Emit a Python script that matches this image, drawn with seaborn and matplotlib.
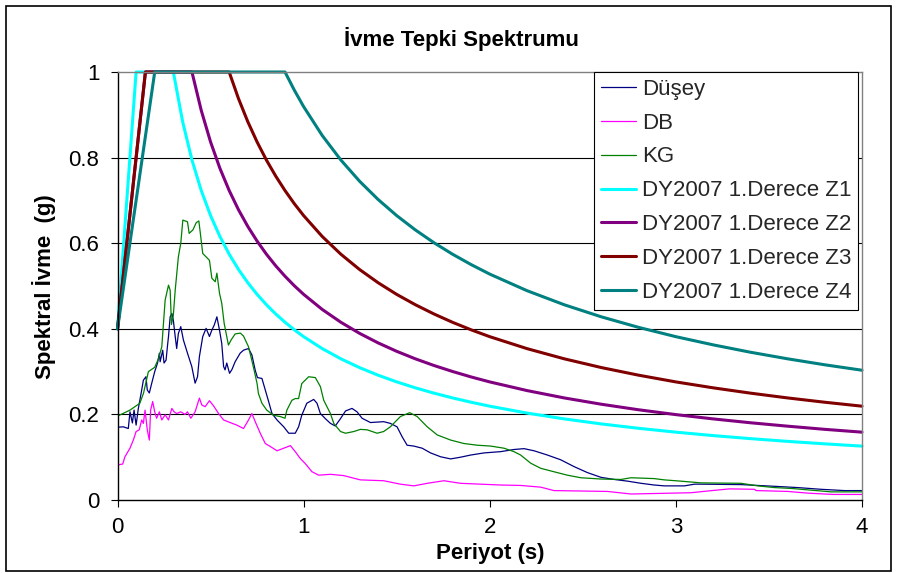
import matplotlib
matplotlib.use("Agg")
import matplotlib.pyplot as plt
import seaborn as sns
from matplotlib.patches import Rectangle

# ---------------- data ----------------
t_dusey = [0, 0.031, 0.058, 0.067, 0.08, 0.089, 0.1, 0.112, 0.13, 0.139, 0.153, 0.16, 0.171, 0.184,
           0.2, 0.215, 0.225, 0.229, 0.243, 0.25, 0.261, 0.268, 0.274, 0.283, 0.292, 0.3, 0.31, 0.318,
           0.327, 0.34, 0.354, 0.376, 0.399, 0.417, 0.43, 0.44, 0.458, 0.476, 0.494, 0.507, 0.52, 0.534,
           0.548, 0.56, 0.57, 0.578, 0.587, 0.602, 0.615, 0.632, 0.659, 0.677, 0.704, 0.722, 0.74, 0.752,
           0.776, 0.794, 0.812, 0.83, 0.857, 0.893, 0.92, 0.955, 0.973, 0.99, 1.017, 1.054, 1.072, 1.09,
           1.117, 1.144, 1.17, 1.198, 1.225, 1.26, 1.287, 1.314, 1.359, 1.43, 1.466, 1.502, 1.529, 1.556,
           1.592, 1.637, 1.682, 1.736, 1.79, 1.843, 1.897, 1.969, 2.059, 2.13, 2.184, 2.238, 2.31, 2.381,
           2.453, 2.525, 2.597, 2.669, 2.741, 2.813, 2.884, 2.938, 3.046, 3.1, 3.135, 3.35, 3.53, 3.655,
           3.78, 3.906, 4.0]
v_dusey = [0.17, 0.171, 0.167, 0.206, 0.18, 0.21, 0.175, 0.214, 0.257, 0.28, 0.288, 0.257, 0.25, 0.273,
           0.3, 0.32, 0.343, 0.323, 0.35, 0.32, 0.327, 0.358, 0.382, 0.428, 0.436, 0.42, 0.382, 0.354,
           0.389, 0.405, 0.374, 0.343, 0.312, 0.273, 0.288, 0.335, 0.382, 0.401, 0.382, 0.397, 0.409, 0.428,
           0.397, 0.366, 0.312, 0.304, 0.32, 0.296, 0.305, 0.323, 0.343, 0.35, 0.354, 0.339, 0.303, 0.286,
           0.284, 0.257, 0.23, 0.202, 0.187, 0.171, 0.156, 0.156, 0.171, 0.198, 0.226, 0.235, 0.226, 0.202,
           0.19, 0.179, 0.173, 0.19, 0.208, 0.214, 0.206, 0.191, 0.181, 0.183, 0.179, 0.171, 0.148, 0.128,
           0.126, 0.121, 0.11, 0.101, 0.096, 0.1, 0.105, 0.11, 0.113, 0.118, 0.12, 0.115, 0.105, 0.094,
           0.078, 0.064, 0.053, 0.048, 0.044, 0.039, 0.035, 0.033, 0.033, 0.037, 0.037, 0.036, 0.032, 0.029,
           0.025, 0.022, 0.022]

t_db = [0, 0.028, 0.04, 0.067, 0.085, 0.1, 0.117, 0.13, 0.139, 0.148, 0.16, 0.171, 0.178, 0.189, 0.2,
        0.21, 0.225, 0.238, 0.256, 0.274, 0.292, 0.304, 0.318, 0.34, 0.363, 0.376, 0.394, 0.417, 0.44,
        0.453, 0.471, 0.494, 0.516, 0.543, 0.57, 0.605, 0.641, 0.677, 0.704, 0.722, 0.74, 0.767, 0.794,
        0.821, 0.857, 0.893, 0.929, 0.955, 0.982, 1.009, 1.045, 1.081, 1.144, 1.216, 1.26, 1.305, 1.43,
        1.52, 1.592, 1.664, 1.754, 1.843, 1.951, 2.059, 2.166, 2.274, 2.345, 2.633, 2.759, 3.082, 3.171,
        3.288, 3.422, 3.431, 3.602, 3.71, 3.845, 4.0]
v_db = [0.082, 0.084, 0.101, 0.121, 0.14, 0.16, 0.164, 0.187, 0.179, 0.21, 0.164, 0.14, 0.21, 0.23, 0.206,
        0.191, 0.206, 0.187, 0.199, 0.187, 0.214, 0.206, 0.202, 0.206, 0.2, 0.206, 0.191, 0.206, 0.238,
        0.222, 0.218, 0.232, 0.22, 0.202, 0.187, 0.181, 0.175, 0.167, 0.187, 0.202, 0.183, 0.156, 0.132,
        0.125, 0.115, 0.121, 0.127, 0.113, 0.097, 0.085, 0.066, 0.058, 0.06, 0.057, 0.052, 0.047, 0.045,
        0.037, 0.033, 0.039, 0.045, 0.039, 0.037, 0.035, 0.034, 0.03, 0.022, 0.02, 0.014, 0.017, 0.021,
        0.026, 0.025, 0.022, 0.02, 0.016, 0.013, 0.013]

t_kg = [0, 0.067, 0.12, 0.14, 0.166, 0.2, 0.22, 0.238, 0.247, 0.256, 0.274, 0.283, 0.29, 0.3, 0.31,
        0.327, 0.34, 0.351, 0.376, 0.385, 0.405, 0.423, 0.437, 0.444, 0.458, 0.494, 0.507, 0.525, 0.534,
        0.548, 0.56, 0.573, 0.596, 0.612, 0.632, 0.66, 0.677, 0.704, 0.73, 0.75, 0.757, 0.776, 0.802,
        0.838, 0.874, 0.9, 0.91, 0.937, 0.955, 0.973, 0.99, 1.027, 1.063, 1.09, 1.108, 1.144, 1.162,
        1.198, 1.225, 1.27, 1.305, 1.341, 1.395, 1.43, 1.466, 1.52, 1.57, 1.61, 1.664, 1.718, 1.79, 1.861,
        1.933, 2.005, 2.077, 2.13, 2.166, 2.22, 2.274, 2.345, 2.417, 2.489, 2.597, 2.705, 2.759, 2.884,
        2.938, 3.028, 3.135, 3.35, 3.44, 3.53, 3.62, 3.727, 3.835, 4.0]
v_kg = [0.196, 0.21, 0.226, 0.25, 0.3, 0.31, 0.33, 0.358, 0.413, 0.467, 0.502, 0.49, 0.41, 0.432, 0.49,
        0.568, 0.6, 0.654, 0.65, 0.623, 0.631, 0.648, 0.652, 0.627, 0.576, 0.56, 0.518, 0.51, 0.53,
        0.483, 0.46, 0.413, 0.362, 0.375, 0.388, 0.39, 0.383, 0.358, 0.311, 0.272, 0.249, 0.226, 0.21,
        0.198, 0.195, 0.191, 0.21, 0.233, 0.237, 0.237, 0.272, 0.288, 0.286, 0.265, 0.233, 0.202, 0.179,
        0.16, 0.156, 0.16, 0.165, 0.164, 0.156, 0.16, 0.171, 0.195, 0.204, 0.195, 0.171, 0.152, 0.14, 0.132,
        0.128, 0.126, 0.121, 0.113, 0.105, 0.086, 0.074, 0.066, 0.058, 0.052, 0.049, 0.048, 0.052, 0.05,
        0.047, 0.044, 0.04, 0.039, 0.033, 0.029, 0.027, 0.023, 0.019, 0.019]

# DY2007 design spectra (1. derece), read at these periods
t_dy = [0, 0.1, 0.15, 0.2, 0.25, 0.3, 0.35, 0.4, 0.45, 0.5, 0.55, 0.6, 0.65, 0.7, 0.75, 0.8, 0.85,
        0.9, 0.95, 1.0, 1.1, 1.2, 1.3, 1.4, 1.5, 1.6, 1.7, 1.8, 1.9, 2.0, 2.2, 2.4, 2.6, 2.8, 3.0,
        3.2, 3.4, 3.6, 3.8, 4.0]
v_z1 = [0.4, 1.0, 1.0, 1.0, 1.0, 1.0, 0.884, 0.7945, 0.7231, 0.6646, 0.6158, 0.5744, 0.5387, 0.5077,
        0.4805, 0.4563, 0.4347, 0.4153, 0.3977, 0.3817, 0.3537, 0.3299, 0.3094, 0.2916, 0.276, 0.2621,
        0.2497, 0.2385, 0.2284, 0.2192, 0.2031, 0.1895, 0.1777, 0.1675, 0.1585, 0.1505, 0.1434, 0.137,
        0.1312, 0.1259]
v_z2 = [0.4, 0.8, 1.0, 1.0, 1.0, 1.0, 1.0, 1.0, 0.9102, 0.8366, 0.7752, 0.7231, 0.6782, 0.6392,
        0.6049, 0.5744, 0.5472, 0.5228, 0.5006, 0.4805, 0.4452, 0.4153, 0.3895, 0.3671, 0.3474, 0.3299,
        0.3143, 0.3003, 0.2875, 0.2759, 0.2557, 0.2385, 0.2237, 0.2108, 0.1995, 0.1895, 0.1805, 0.1725,
        0.1651, 0.1585]
v_z3 = [0.4, 0.8, 1.0, 1.0, 1.0, 1.0, 1.0, 1.0, 1.0, 1.0, 1.0, 1.0, 0.9379, 0.8839, 0.8365, 0.7943,
        0.7568, 0.723, 0.6923, 0.6645, 0.6157, 0.5743, 0.5387, 0.5077, 0.4804, 0.4563, 0.4347, 0.4152,
        0.3976, 0.3816, 0.3537, 0.3299, 0.3094, 0.2916, 0.2759, 0.2621, 0.2497, 0.2385, 0.2284, 0.2192]
v_z4 = [0.4, 0.7, 0.85, 1.0, 1.0, 1.0, 1.0, 1.0, 1.0, 1.0, 1.0, 1.0, 1.0, 1.0, 1.0, 1.0, 1.0, 1.0,
        0.9576, 0.9191, 0.8516, 0.7944, 0.7451, 0.7022, 0.6645, 0.6311, 0.6012, 0.5743, 0.55, 0.5278,
        0.4891, 0.4562, 0.4279, 0.4033, 0.3816, 0.3625, 0.3453, 0.3299, 0.3159, 0.3032]

x_ticks = [0, 1, 2, 3, 4]
y_ticks = [0, 0.2, 0.4, 0.6, 0.8, 1.0]
y_tick_labels = ["0", "0.2", "0.4", "0.6", "0.8", "1"]

# ---------------- style ----------------
sns.set_theme(style="white")
plt.rcParams['font.family'] = ['Liberation Sans', 'DejaVu Sans']

W, H = 897, 573
fig = plt.figure(figsize=(W / 100, H / 100), dpi=100)
L, R, T, B = 117.5, 862, 72, 500
ax = fig.add_axes([L / W, 1 - B / H, (R - L) / W, (B - T) / H])

# horizontal gridlines
for yv in y_ticks[1:-1]:
    ax.axhline(yv, color='black', lw=0.8, zorder=0)

thin = [("Düşey", t_dusey, v_dusey, "#000080"),
        ("DB", t_db, v_db, "#FF00FF"),
        ("KG", t_kg, v_kg, "#008000")]
for name, tx, vy, col in thin:
    sns.lineplot(x=tx, y=vy, ax=ax, color=col, linewidth=0.9, label=name,
                 estimator=None, sort=False)

thick = [("DY2007 1.Derece Z1", v_z1, "#00FFFF"),
         ("DY2007 1.Derece Z2", v_z2, "#800080"),
         ("DY2007 1.Derece Z3", v_z3, "#800000"),
         ("DY2007 1.Derece Z4", v_z4, "#008080")]
for name, vy, col in thick:
    sns.lineplot(x=t_dy, y=vy, ax=ax, color=col, linewidth=2.2, label=name,
                 estimator=None, sort=False, clip_on=False)

ax.set_xlim(0, 4)
ax.set_ylim(0, 1)
ax.set_xticks(x_ticks)
ax.set_xticklabels([str(v) for v in x_ticks])
ax.set_yticks(y_ticks)
ax.set_yticklabels(y_tick_labels)

for s in ['left', 'bottom']:
    ax.spines[s].set_color('black')
    ax.spines[s].set_linewidth(1.0)
for s in ['top', 'right']:
    ax.spines[s].set_color('#808080')
    ax.spines[s].set_linewidth(1.0)

ax.tick_params(axis='both', which='major', bottom=True, left=True, direction='out',
               length=5, width=0.8, color='black', labelsize=16, labelcolor='black')
ax.tick_params(axis='y', pad=8)
ax.tick_params(axis='x', pad=7)

ax.set_xlabel("Periyot (s)", fontsize=16, fontweight='bold', color='black')
ax.xaxis.set_label_coords(0.5, -0.1)
ax.set_ylabel("Spektral İvme  (g)", fontsize=16, fontweight='bold', color='black')
ax.yaxis.set_label_coords(-0.083, 0.498)

fig.text(461 / W, 1 - 46 / H, "İvme Tepki Spektrumu", ha='center', va='baseline',
         fontsize=16, fontweight='bold', color='black')

leg = ax.legend(loc='upper right', bbox_to_anchor=(0.9946, 1.0), borderaxespad=0,
                frameon=True, fancybox=False, edgecolor='black', framealpha=1,
                fontsize=16, handlelength=1.6, handletextpad=0.25, labelspacing=0.58,
                borderpad=0.3)
leg.get_frame().set_linewidth(0.8)

fig.patches.append(Rectangle((6 / W, 2 / H), 885 / W, 565 / H, transform=fig.transFigure,
                             fill=False, edgecolor='black', lw=1.2))

fig.savefig('out.png', dpi=100)
